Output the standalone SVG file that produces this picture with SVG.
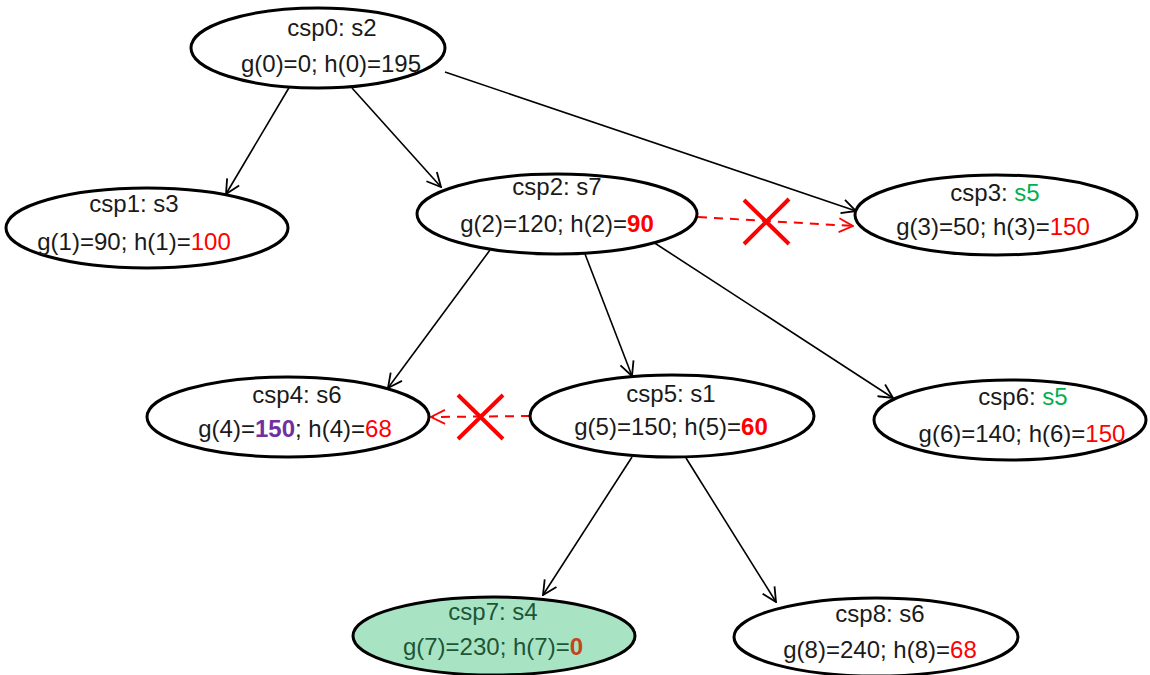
<svg xmlns="http://www.w3.org/2000/svg" width="1150" height="675" viewBox="0 0 1150 675">
<style>
.node ellipse{fill:#fff;stroke:#000;stroke-width:3}
.node text{font-family:"Liberation Sans",Arial,sans-serif;font-size:24px;fill:#1a1a1a;text-anchor:middle}
.edge{stroke:#000;stroke-width:1.6;fill:none;marker-end:url(#arr)}
.cut{stroke:#ff0000;stroke-width:2;stroke-dasharray:9,7;fill:none;marker-end:url(#arrR)}
.x{stroke:#ff0000;stroke-width:4;fill:none}
.red{fill:#ff0000}
.grn{fill:#00b050}
.pur{fill:#7030a0;font-weight:bold}
.b{font-weight:bold}
</style>
<defs>
<marker id="arr" viewBox="0 0 16 16" refX="15" refY="8" markerWidth="16" markerHeight="16" markerUnits="userSpaceOnUse" orient="auto"><path d="M1,1 L15,8 L1,15" fill="none" stroke="#000" stroke-width="1.8"/></marker>
<marker id="arrR" viewBox="0 0 16 16" refX="15" refY="8" markerWidth="16" markerHeight="16" markerUnits="userSpaceOnUse" orient="auto"><path d="M1,1 L15,8 L1,15" fill="none" stroke="#ff0000" stroke-width="1.8"/></marker>
</defs>
<g id="connectors">
<line class="edge" x1="290" y1="86" x2="226" y2="194"/>
<line class="edge" x1="352" y1="88" x2="441" y2="187"/>
<line class="edge" x1="445" y1="72" x2="856" y2="211"/>
<line class="cut" x1="698" y1="217" x2="853" y2="226"/>
<path class="x" d="M744,200 L789,244 M789,199 L744,244"/>
<line class="edge" x1="490" y1="250" x2="388" y2="388"/>
<line class="edge" x1="585" y1="254" x2="632" y2="376"/>
<line class="edge" x1="650" y1="240" x2="893" y2="398"/>
<line class="cut" x1="530" y1="416" x2="431" y2="417"/>
<path class="x" d="M458,395 L503,439 M503,395 L458,439"/>
<line class="edge" x1="632" y1="457" x2="543" y2="595"/>
<line class="edge" x1="686" y1="458" x2="776" y2="602"/>
</g>
<g id="csp0" class="node"><ellipse cx="318" cy="48" rx="127" ry="40"/>
<text x="332" y="36">csp0: s2</text><text x="331" y="72">g(0)=0; h(0)=195</text></g>
<g id="csp1" class="node"><ellipse cx="147" cy="228" rx="141" ry="40"/>
<text x="134" y="212">csp1: s3</text><text x="134" y="250">g(1)=90; h(1)=<tspan class="red">100</tspan></text></g>
<g id="csp2" class="node"><ellipse cx="557" cy="214" rx="140" ry="40"/>
<text x="557" y="195">csp2: s7</text><text x="557" y="232">g(2)=120; h(2)=<tspan class="red b">90</tspan></text></g>
<g id="csp3" class="node"><ellipse cx="996" cy="215" rx="141" ry="40"/>
<text x="995" y="201">csp3: <tspan class="grn">s5</tspan></text><text x="993" y="235">g(3)=50; h(3)=<tspan class="red">150</tspan></text></g>
<g id="csp4" class="node"><ellipse cx="288" cy="417" rx="141" ry="40"/>
<text x="297" y="403">csp4: s6</text><text x="295" y="437">g(4)=<tspan class="pur">150</tspan>; h(4)=<tspan class="red">68</tspan></text></g>
<g id="csp5" class="node"><ellipse cx="672" cy="416" rx="142" ry="41"/>
<text x="671" y="402">csp5: s1</text><text x="671" y="435">g(5)=150; h(5)=<tspan class="red b">60</tspan></text></g>
<g id="csp6" class="node"><ellipse cx="1010" cy="420" rx="136" ry="40"/>
<text x="1023" y="405">csp6: <tspan class="grn">s5</tspan></text><text x="1022" y="442">g(6)=140; h(6)=<tspan class="red">150</tspan></text></g>
<g id="csp7" class="node"><ellipse cx="494" cy="636" rx="141" ry="39" style="fill:#a8e4c4"/>
<text x="493" y="620" style="fill:#1d5636">csp7: s4</text><text x="493" y="655" style="fill:#1d5636">g(7)=230; h(7)=<tspan class="b" style="fill:#c0461c">0</tspan></text></g>
<g id="csp8" class="node"><ellipse cx="876" cy="637" rx="142" ry="39"/>
<text x="880" y="622">csp8: s6</text><text x="880" y="658">g(8)=240; h(8)=<tspan class="red">68</tspan></text></g>
</svg>
